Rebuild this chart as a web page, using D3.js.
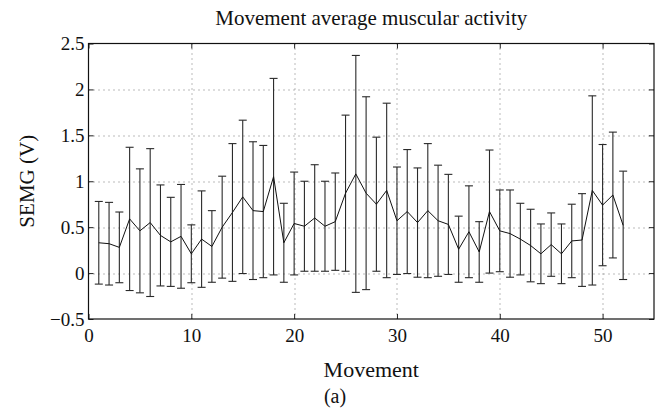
<!DOCTYPE html>
<html>
<head>
<meta charset="utf-8">
<script src="https://cdn.jsdelivr.net/npm/d3@7"></script>
<style>
  html, body { margin: 0; padding: 0; background: #fff; }
  svg { display: block; }
  svg text { font-family: "Liberation Serif", "Times New Roman", Tinos, "DejaVu Serif", serif; fill: #111; }
</style>
</head>
<body>
<svg id="chart" width="662" height="410"></svg>
<script>
// Movement index 1..52
const movements = d3.range(1, 53);

// Mean SEMG per movement (V)
const meanValues = [
  0.33, 0.32, 0.28, 0.59, 0.46, 0.55, 0.41, 0.34, 0.40, 0.21,
  0.37, 0.29, 0.50, 0.66, 0.83, 0.68, 0.67, 1.05, 0.33, 0.54,
  0.51, 0.60, 0.51, 0.56, 0.87, 1.08, 0.87, 0.75, 0.90, 0.57,
  0.67, 0.55, 0.68, 0.57, 0.53, 0.26, 0.45, 0.23, 0.67, 0.46,
  0.43, 0.37, 0.30, 0.21, 0.31, 0.21, 0.35, 0.36, 0.90, 0.74,
  0.85, 0.52
];

// Standard deviation per movement (V), drawn as symmetric error bars
const stdValues = [
  0.45, 0.45, 0.385, 0.78, 0.675, 0.805, 0.55, 0.485, 0.565, 0.315,
  0.525, 0.39, 0.555, 0.75, 0.835, 0.75, 0.72, 1.07, 0.43, 0.56,
  0.49, 0.58, 0.49, 0.53, 0.85, 1.29, 1.05, 0.73, 0.95, 0.585,
  0.675, 0.595, 0.73, 0.605, 0.545, 0.36, 0.50, 0.33, 0.67, 0.445,
  0.475, 0.39, 0.395, 0.325, 0.345, 0.325, 0.40, 0.505, 1.03, 0.66,
  0.685, 0.59
];

const xTicks = [0, 10, 20, 30, 40, 50];
const yTicks = [-0.5, 0, 0.5, 1, 1.5, 2, 2.5];
const xDomain = [0, 55];
const yDomain = [-0.5, 2.5];

const titleText = "Movement average muscular activity";
const xLabelText = "Movement";
const yLabelText = "SEMG (V)";
const captionText = "(a)";

const data = movements.map((m, i) => ({ m, mean: meanValues[i], sd: stdValues[i] }));

const svg = d3.select("#chart");
const margin = { left: 88.5, right: 8, top: 43.5, bottom: 91 };
const W = 662, H = 410;
const pw = W - margin.left - margin.right;
const ph = H - margin.top - margin.bottom;

const x = d3.scaleLinear().domain(xDomain).range([0, pw]);
const y = d3.scaleLinear().domain(yDomain).range([ph, 0]);

const g = svg.append("g").attr("transform", `translate(${margin.left},${margin.top})`);

// dotted grid
const grid = g.append("g").attr("class", "grid");
grid.selectAll("line.gx")
  .data(xTicks.filter(t => t > xDomain[0] && t < xDomain[1]))
  .join("line")
  .attr("x1", d => Math.round(x(d)) + 0.5).attr("x2", d => Math.round(x(d)) + 0.5)
  .attr("y1", 0).attr("y2", ph);
grid.selectAll("line.gy")
  .data(yTicks.filter(t => t > yDomain[0] && t < yDomain[1]))
  .join("line")
  .attr("y1", d => Math.round(y(d)) + 0.5).attr("y2", d => Math.round(y(d)) + 0.5)
  .attr("x1", 0).attr("x2", pw);
grid.selectAll("line")
  .attr("stroke", "#777")
  .attr("stroke-width", 1)
  .attr("stroke-dasharray", "1,4");

const tickFmt = d => (d < 0 ? "\u2212" : "") + Math.abs(d);

// axes with inward ticks
const xAxisB = g.append("g").attr("transform", `translate(0,${ph})`)
  .call(d3.axisBottom(x).tickValues(xTicks).tickSize(-5).tickPadding(10).tickFormat(tickFmt));
const xAxisT = g.append("g")
  .call(d3.axisTop(x).tickValues(xTicks).tickSize(-5).tickFormat(""));
const yAxisL = g.append("g")
  .call(d3.axisLeft(y).tickValues(yTicks).tickSize(-5).tickPadding(4).tickFormat(tickFmt));
const yAxisR = g.append("g").attr("transform", `translate(${pw},0)`)
  .call(d3.axisRight(y).tickValues(yTicks).tickSize(-5).tickFormat(""));

[xAxisB, xAxisT, yAxisL, yAxisR].forEach(a => {
  a.attr("font-family", null).attr("font-size", null);
  a.select(".domain").remove();
  a.selectAll(".tick line").attr("stroke", "#222");
  a.selectAll("text").style("font-size", "19px").attr("fill", "#111");
});
xAxisB.selectAll("text").attr("dy", "0.71em");

// frame
g.append("rect")
  .attr("x", 0).attr("y", 0).attr("width", pw).attr("height", ph)
  .attr("fill", "none").attr("stroke", "#111").attr("stroke-width", 1.2);

// error bars
const capHalf = 4;
const bars = g.append("g").attr("class", "errorbars")
  .attr("stroke", "#2a2a2a").attr("stroke-width", 1.1).attr("fill", "none");
const eb = bars.selectAll("g").data(data).join("g");
eb.append("line")
  .attr("x1", d => x(d.m)).attr("x2", d => x(d.m))
  .attr("y1", d => y(d.mean - d.sd)).attr("y2", d => y(d.mean + d.sd));
eb.append("line")
  .attr("x1", d => x(d.m) - capHalf).attr("x2", d => x(d.m) + capHalf)
  .attr("y1", d => y(d.mean + d.sd)).attr("y2", d => y(d.mean + d.sd));
eb.append("line")
  .attr("x1", d => x(d.m) - capHalf).attr("x2", d => x(d.m) + capHalf)
  .attr("y1", d => y(d.mean - d.sd)).attr("y2", d => y(d.mean - d.sd));

// mean line
g.append("path")
  .datum(data)
  .attr("fill", "none").attr("stroke", "#111").attr("stroke-width", 1)
  .attr("d", d3.line().x(d => x(d.m)).y(d => y(d.mean)));

// title and labels
svg.append("text")
  .attr("x", margin.left + pw / 2).attr("y", 25)
  .attr("text-anchor", "middle").style("font-size", "21px")
  .text(titleText);
svg.append("text")
  .attr("x", margin.left + pw / 2).attr("y", 377)
  .attr("text-anchor", "middle").style("font-size", "22px")
  .text(xLabelText);
svg.append("text")
  .attr("transform", `translate(34,${margin.top + ph / 2}) rotate(-90)`)
  .attr("text-anchor", "middle").style("font-size", "21px")
  .text(yLabelText);
svg.append("text")
  .attr("x", 335).attr("y", 403)
  .attr("text-anchor", "middle").style("font-size", "20px")
  .text(captionText);
</script>
</body>
</html>
